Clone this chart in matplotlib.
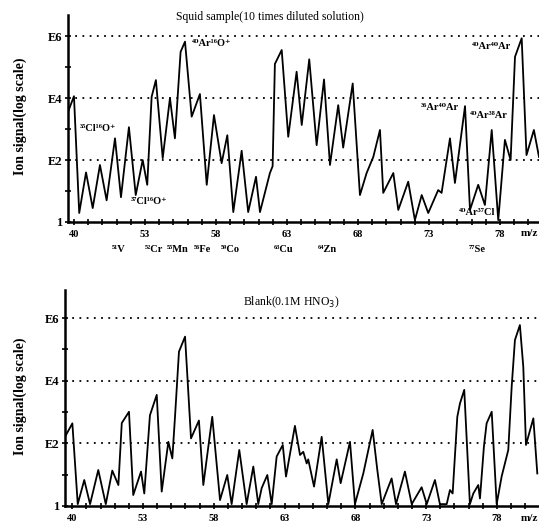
import numpy as np
import matplotlib
matplotlib.use("Agg")
import matplotlib.pyplot as plt
from matplotlib.ticker import FixedLocator, NullFormatter

plt.rcParams['font.family'] = ['Liberation Serif', 'DejaVu Serif']

# squid sample (10 times diluted), m/z and log10(ion signal)
squid_mz = [47.58, 48.0, 48.37, 48.85, 49.32, 49.83, 50.30, 50.89, 51.31, 51.87,
            52.35, 52.84, 53.16, 53.47, 53.77, 54.25, 54.76, 55.11, 55.51, 55.82,
            56.29, 56.87, 57.35, 57.86, 58.40, 58.80, 59.22, 59.81, 60.27, 60.82,
            61.10, 61.80, 61.99, 62.15, 62.63, 63.09, 63.68, 64.04, 64.57, 65.09,
            65.61, 66.03, 66.61, 66.96, 67.63, 68.14, 68.61, 69.08, 69.55, 69.78,
            70.49, 70.84, 71.54, 72.01, 72.49, 72.95, 73.65, 73.89, 74.48, 74.83,
            75.54, 75.89, 76.47, 76.94, 77.42, 77.88, 78.35, 78.75, 79.06, 79.53,
            79.87, 80.39, 80.75]
squid_log = [3.55, 4.06, 0.29, 1.6, 0.45, 1.84, 0.7, 2.7, 0.8, 3.06,
             0.87, 2.0, 1.2, 4.04, 4.58, 2.06, 4.0, 2.7, 5.49, 5.82,
             3.4, 4.13, 1.2, 3.45, 1.9, 2.8, 0.32, 2.3, 0.32, 1.46,
             0.32, 1.58, 1.8, 5.1, 5.55, 2.75, 4.85, 3.13, 5.25, 2.48,
             4.6, 1.84, 3.77, 2.4, 4.47, 0.87, 1.58, 2.1, 2.97, 0.94,
             1.58, 0.39, 1.3, 0.06, 0.87, 0.29, 1.03, 0.94, 2.7, 1.26,
             3.74, 0.39, 1.2, 0.55, 2.97, 0.06, 2.65, 2.0, 5.33, 5.93,
             2.16, 2.97, 2.1]

# blank (0.1M HNO3)
blank_mz = [47.49, 48.01, 48.39, 48.85, 49.26, 49.84, 50.37, 50.83, 51.26, 51.50,
            52.01, 52.31, 52.86, 53.09, 53.49, 53.97, 54.32, 54.79, 55.07, 55.26,
            55.54, 55.97, 56.39, 56.95, 57.26, 57.89, 58.44, 58.95, 59.26, 59.80,
            60.32, 60.79, 61.14, 61.38, 61.78, 62.09, 62.44, 62.87, 63.10, 63.73,
            64.09, 64.32, 64.56, 64.67, 65.08, 65.62, 66.09, 66.68, 66.96, 67.62,
            67.97, 68.56, 69.22, 69.55, 69.86, 70.56, 70.87, 71.50, 71.98, 72.68,
            73.04, 73.62, 73.97, 74.45, 74.68, 74.87, 75.20, 75.39, 75.69, 76.09,
            76.33, 76.68, 76.80, 77.08, 77.27, 77.63, 77.98, 78.33, 78.80, 79.04,
            79.27, 79.62, 79.86, 80.05, 80.57, 80.85]
blank_log = [2.21, 2.64, 0.06, 0.83, 0.06, 1.15, 0.06, 1.13, 0.67, 2.65,
             3.01, 0.35, 1.1, 0.4, 2.9, 3.55, 0.46, 2.05, 1.52, 2.85,
             4.93, 5.41, 2.16, 2.73, 0.67, 2.85, 0.19, 0.99, 0.06, 1.79,
             0.06, 1.26, 0.06, 0.57, 0.99, 0.06, 1.58, 1.95, 0.94, 2.56,
             1.63, 1.73, 1.36, 1.49, 0.62, 2.21, 0.06, 1.49, 0.73, 2.05,
             0.06, 1.04, 2.43, 1.15, 0.06, 0.88, 0.06, 1.1, 0.06, 0.6,
             0.06, 0.83, 0.06, 0.06, 0.51, 0.4, 2.85, 3.28, 3.71, 0.06,
             0.4, 0.67, 0.24, 1.9, 2.64, 3.01, 0.06, 0.94, 1.79, 3.81,
             5.3, 5.78, 4.45, 1.95, 2.8, 1.04]

mz_ticks = [48, 53, 58, 63, 68, 73, 78]
mz_tick_labels = ["40", "53", "58", "63", "68", "73", "78"]
y_ticks = [1, 1e2, 1e4, 1e6]
y_tick_labels = ["1", "E2", "E4", "E6"]

# interference labels inside the sample panel: (text, m/z, log10 signal)
interferences = [("³⁵Cl¹⁶O⁺", 49.69, 3.03),
                 ("³⁷Cl¹⁶O⁺", 53.28, 0.65),
                 ("⁴⁰Ar¹⁶O⁺", 57.72, 5.77),
                 ("³⁶Ar⁴⁰Ar", 73.77, 3.68),
                 ("⁴⁰Ar³⁸Ar", 77.23, 3.45),
                 ("⁴⁰Ar³⁷Cl", 76.38, 0.32),
                 ("⁴⁰Ar⁴⁰Ar", 77.44, 5.65)]
# analyte labels under the sample axis
analytes = [("⁵¹V", 51.17), ("⁵²Cr", 53.63), ("⁵⁵Mn", 55.32), ("⁵⁶Fe", 57.08),
            ("⁵⁹Co", 58.99), ("⁶³Cu", 62.79), ("⁶⁴Zn", 65.82), ("⁷⁷Se", 76.38)]


def style_axis(ax, xlim, ytop):
    ax.set_yscale("log")
    ax.set_xlim(xlim)
    ax.set_ylim(1, 10 ** ytop)
    for s in ["top", "right"]:
        ax.spines[s].set_visible(False)
    for s in ["left", "bottom"]:
        ax.spines[s].set_linewidth(1.8)
    ax.yaxis.set_major_locator(FixedLocator(y_ticks))
    ax.yaxis.set_minor_locator(FixedLocator([1e1, 1e3, 1e5]))
    ax.yaxis.set_minor_formatter(NullFormatter())
    ax.set_yticklabels(y_tick_labels, fontsize=9, fontweight="bold")
    ax.set_xticks(mz_ticks)
    ax.set_xticklabels(mz_tick_labels, fontsize=7.5, fontweight="bold")
    ax.xaxis.set_minor_locator(FixedLocator(np.arange(48, 81)))
    ax.tick_params(which="both", direction="inout", length=4, width=1.2, pad=2)
    ax.tick_params(axis="x", which="major", length=5, pad=3)
    for v in [1e2, 1e4, 1e6]:
        ax.axhline(v, color="black", lw=1.3, ls=(0, (1, 3)), zorder=1)
    ax.text(0.98, -0.035, "m/z", transform=ax.transAxes, ha="center", va="top",
            fontsize=8, fontweight="bold")


fig = plt.figure(figsize=(5.39, 5.28), dpi=100)

ax1 = fig.add_axes([68 / 539, 306 / 528, 471 / 539, 207 / 528])
ax1.plot(squid_mz, 10 ** np.array(squid_log), color="black", lw=1.3, zorder=3)
style_axis(ax1, (47.58, 80.75), 6.68)
for txt, m, lv in interferences:
    ax1.text(m, 10 ** lv, txt, ha="center", va="center", fontsize=7.5,
             fontweight="bold", zorder=4)
for txt, m in analytes:
    ax1.text(m, 10 ** -0.9, txt, ha="center", va="center", fontsize=7.5,
             fontweight="bold", clip_on=False)
fig.text(0.50, 0.968, "Squid sample(10 times diluted solution)", ha="center",
         va="center", fontsize=8.5)

ax2 = fig.add_axes([65 / 539, 22 / 528, 474 / 539, 216 / 528])
ax2.plot(blank_mz, 10 ** np.array(blank_log), color="black", lw=1.3, zorder=3)
style_axis(ax2, (47.49, 80.97), 6.9)
fig.text(0.54, 0.428, "Blank(0.1M HNO$_3$)", ha="center", va="center",
         fontsize=8.5)

fig.text(20 / 539, 0.78, "Ion signal(log scale)", rotation=90, ha="center",
         va="center", fontsize=10, fontweight="bold")
fig.text(20 / 539, 0.25, "Ion signal(log scale)", rotation=90, ha="center",
         va="center", fontsize=10, fontweight="bold")

fig.savefig("out.png", dpi=100)
